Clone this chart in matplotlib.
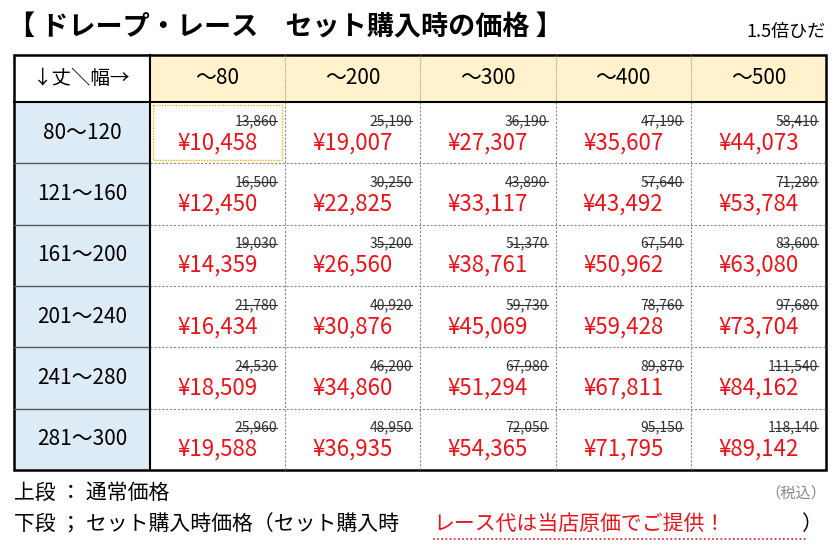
import matplotlib
matplotlib.use("Agg")
import matplotlib.pyplot as plt
from matplotlib.patches import Rectangle

plt.rcParams["font.family"] = "Noto Sans CJK JP"

title = "【 ドレープ・レース　セット購入時の価格 】"
note = "1.5倍ひだ"
corner = "↓丈＼幅→"
widths = ["～80", "～200", "～300", "～400", "～500"]
heights = ["80～120", "121～160", "161～200", "201～240", "241～280", "281～300"]
regular = [
    [13860, 25190, 36190, 47190, 58410],
    [16500, 30250, 43890, 57640, 71280],
    [19030, 35200, 51370, 67540, 83600],
    [21780, 40920, 59730, 78760, 97680],
    [24530, 46200, 67980, 89870, 111540],
    [25960, 48950, 72050, 95150, 118140],
]
setprice = [
    [10458, 19007, 27307, 35607, 44073],
    [12450, 22825, 33117, 43492, 53784],
    [14359, 26560, 38761, 50962, 63080],
    [16434, 30876, 45069, 59428, 73704],
    [18509, 34860, 51294, 67811, 84162],
    [19588, 36935, 54365, 71795, 89142],
]

fig = plt.figure(figsize=(8.4, 5.57), dpi=100)
ax = fig.add_axes([0, 0, 1, 1])
ax.set_xlim(0, 840); ax.set_ylim(557, 0); ax.axis("off")

ax.text(8, 27, title, fontsize=19.5, fontweight="bold", va="center", ha="left")
ax.text(826, 32, note, fontsize=13, va="center", ha="right")

x0, c0w, cw = 14, 136, 135.2
y0, hh, rh = 55, 47, 61.3
xs = [x0, x0 + c0w] + [x0 + c0w + cw * (i + 1) for i in range(len(widths))]
ys = [y0, y0 + hh] + [y0 + hh + rh * (i + 1) for i in range(len(heights))]

ax.add_patch(Rectangle((xs[0], ys[0]), c0w, hh, fc="white", ec="none"))
ax.text(xs[0] + c0w / 2, ys[0] + hh / 2, corner, fontsize=14, ha="center", va="center")
for j, w in enumerate(widths):
    ax.add_patch(Rectangle((xs[j + 1], ys[0]), cw, hh, fc="#FFF2CC", ec="none"))
    ax.text(xs[j + 1] + cw / 2, ys[0] + hh / 2, w, fontsize=15, ha="center", va="center")
for i, h in enumerate(heights):
    ax.add_patch(Rectangle((xs[0], ys[i + 1]), c0w, rh, fc="#DDEBF7", ec="none"))
    ax.text(xs[0] + c0w / 2, ys[i + 1] + rh / 2, h, fontsize=15, ha="center", va="center")
    for j in range(len(widths)):
        cx = xs[j + 1]; cy = ys[i + 1]
        r = f"{regular[i][j]:,}"
        ax.text(cx + cw - 8, cy + 19, r, fontsize=10, ha="right", va="center", color="#333333")
        tw = 6.3 * len(r)
        ax.plot([cx + cw - 8 - tw, cx + cw - 8], [cy + 19, cy + 19], color="#333333", lw=0.8)
        ax.text(cx + cw / 2, cy + 41, f"¥{setprice[i][j]:,}", fontsize=16, ha="center",
                va="center", color="#E8141B")

for x in xs[2:-1]:
    ax.plot([x, x], [ys[1], ys[-1]], color="#888888", lw=0.8, ls=(0, (2, 1.5)))
for y in ys[2:-1]:
    ax.plot([xs[1], xs[-1]], [y, y], color="#888888", lw=0.8, ls=(0, (2, 1.5)))
for x in xs[2:-1]:
    ax.plot([x, x], [ys[0], ys[1]], color="#999999", lw=0.8, ls=(0, (1, 1)))
for y in ys[2:-1]:
    ax.plot([xs[0], xs[1]], [y, y], color="#555555", lw=1.0)
ax.plot([xs[0], xs[-1]], [ys[1], ys[1]], color="black", lw=1.5)
ax.plot([xs[1], xs[1]], [ys[0], ys[-1]], color="black", lw=1.5)
ax.add_patch(Rectangle((xs[0], ys[0]), xs[-1] - xs[0], ys[-1] - ys[0], fc="none", ec="black", lw=1.8))
ax.add_patch(Rectangle((xs[1] + 3, ys[1] + 3), cw - 6, rh - 6, fc="none", ec="#F0B400", lw=1, ls=(0, (1, 1))))

ax.text(14, 493, "上段 ： 通常価格", fontsize=15, ha="left", va="center")
ax.text(826, 493, "（税込）", fontsize=11, ha="right", va="center", color="#888888")
ax.text(14, 524, "下段 ； セット購入時価格（セット購入時", fontsize=15, ha="left", va="center")
ax.text(433, 524, "レース代は当店原価でご提供！", fontsize=15, ha="left", va="center", color="#E8141B")
ax.text(822, 524, "）", fontsize=15, ha="right", va="center")
ax.plot([433, 808], [539, 539], color="#E8141B", lw=1.2, ls=(0, (1, 1.5)))

fig.savefig("out.png", dpi=100)
